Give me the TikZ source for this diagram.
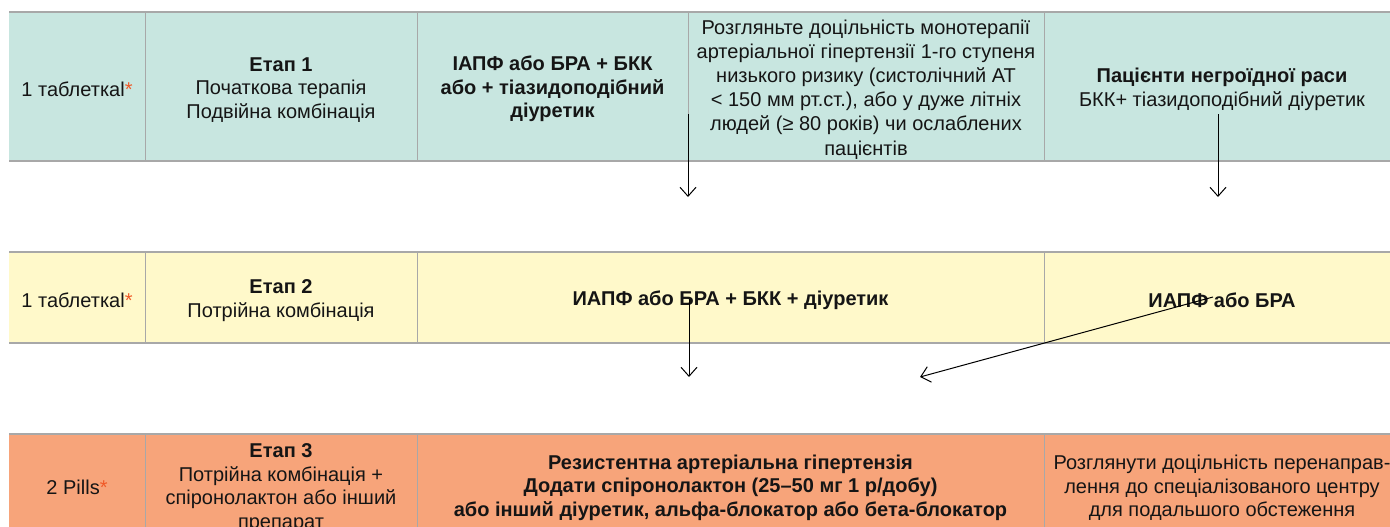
\documentclass[tikz,border=0pt]{standalone}
\usepackage{fontspec}
\setmainfont{Liberation Sans}
\usetikzlibrary{arrows.meta}

\definecolor{stageone}{HTML}{C8E6E0}
\definecolor{stagetwo}{HTML}{FFF9CA}
\definecolor{stagethree}{HTML}{F7A47A}
\definecolor{gridline}{HTML}{A8A8A8}
\definecolor{starred}{HTML}{F05A28}
\definecolor{ink}{HTML}{151515}

\newcommand{\redstar}{\textcolor{starred}{*}}
% taller first line so that the text block sits a little lower in its cell
\newcommand{\headroom}{\rule{0pt}{20pt}}

\tikzset{
  cell/.style={inner sep=0pt, outer sep=0pt, align=center, text=ink,
    font=\fontsize{20}{23.5}\selectfont,
    execute at begin node={\headroom}},
  rowone/.style={cell, fill=stageone, minimum height=149pt},
  rowtwo/.style={cell, fill=stagetwo, minimum height=91pt},
  rowthree/.style={cell, fill=stagethree, minimum height=102pt},
  hline/.style={draw=gridline, line width=1.5pt},
  vline/.style={draw=gridline, line width=0.9pt},
  flow/.style={draw=black, line width=1pt,
    -{Straight Barb[length=9pt,width=16pt,line width=1pt]}}
}

\begin{document}
\begin{tikzpicture}[x=1pt,y=-1pt]
  \useasboundingbox (0,0) rectangle (1390,527);
  \clip (0,0) rectangle (1390,527);

  % ---- Stage 1 ----
  \node[rowone, minimum width=136pt] (s1dose) at (77,86.5) {1 таблеткаl\redstar};
  \node[rowone, minimum width=272pt] (s1name) at (281,86.5)
    {\headroom\textbf{Етап 1}\\Початкова терапія\\Подвійна комбінація};
  \node[rowone, minimum width=271pt] (s1drug) at (552.5,86.5)
    {\headroom\textbf{ІАПФ або БРА + БКК}\\\textbf{або + тіазидоподібний}\\\textbf{діуретик}};
  \node[rowone, minimum width=356pt, font=\fontsize{20}{24.2}\selectfont] (s1mono) at (866,86.5)
    {\headroom Розгляньте доцільність монотерапії\\артеріальної гіпертензії 1-го ступеня\\низького ризику (систолічний АТ\\< 150 мм рт.ст.), або у дуже літніх\\людей (≥ 80 років) чи ослаблених\\пацієнтів};
  \node[rowone, minimum width=356pt] (s1black) at (1222,86.5)
    {\headroom\textbf{Пацієнти негроїдної раси}\\БКК+ тіазидоподібний діуретик};

  % ---- Stage 2 ----
  \node[rowtwo, minimum width=136pt] (s2dose) at (77,297.5) {1 таблеткаl\redstar};
  \node[rowtwo, minimum width=272pt] (s2name) at (281,297.5)
    {\headroom\textbf{Етап 2}\\Потрійна комбінація};
  \node[rowtwo, minimum width=627pt] (s2drug) at (730.5,297.5)
    {\textbf{ИАПФ або БРА + БКК + діуретик}};
  \node[rowtwo, minimum width=356pt] (s2black) at (1222,297.5)
    {\textbf{ИАПФ або БРА}};

  % ---- Stage 3 ----
  \node[rowthree, minimum width=136pt] (s3dose) at (77,485) {2 Pills\redstar};
  \node[rowthree, minimum width=272pt] (s3name) at (281,485)
    {\headroom\textbf{Етап 3}\\Потрійна комбінація +\\спіронолактон або інший\\препарат};
  \node[rowthree, minimum width=627pt] (s3drug) at (730.5,485)
    {\headroom\textbf{Резистентна артеріальна гіпертензія}\\\textbf{Додати спіронолактон (25–50 мг 1 р/добу)}\\\textbf{або інший діуретик, альфа-блокатор або бета-блокатор}};
  \node[rowthree, minimum width=356pt] (s3refer) at (1222,485)
    {\headroom Розглянути доцільність перенаправ-\\лення до спеціалізованого центру\\для подальшого обстеження};

  % ---- grid lines ----
  \foreach \r/\a/\b in {s1/dose/black, s2/dose/black, s3/dose/refer}{
    \draw[hline] (\r\a.north west) -- (\r\b.north east);
    \draw[hline] (\r\a.south west) -- (\r\b.south east);
  }
  \foreach \c in {s1dose, s1name, s1drug, s1mono, s2dose, s2name, s2drug, s3dose, s3name, s3drug}
    \draw[vline] (\c.north east) -- (\c.south east);

  % ---- flow arrows ----
  \coordinate (monofrom) at (688,114);
  \coordinate (monoto)   at (688,197);
  \coordinate (blackfrom) at (1218,114);
  \coordinate (blackto)   at (1218,197);
  \coordinate (twofrom) at (689,299);
  \coordinate (twoto)   at (689,377);
  \coordinate (altfrom) at (1213,297);
  \coordinate (altto)   at (920,377);
  \draw[flow] (monofrom) -- (monoto);
  \draw[flow] (blackfrom) -- (blackto);
  \draw[flow] (twofrom) -- (twoto);
  \draw[flow] (altfrom) -- (altto);
\end{tikzpicture}
\end{document}
